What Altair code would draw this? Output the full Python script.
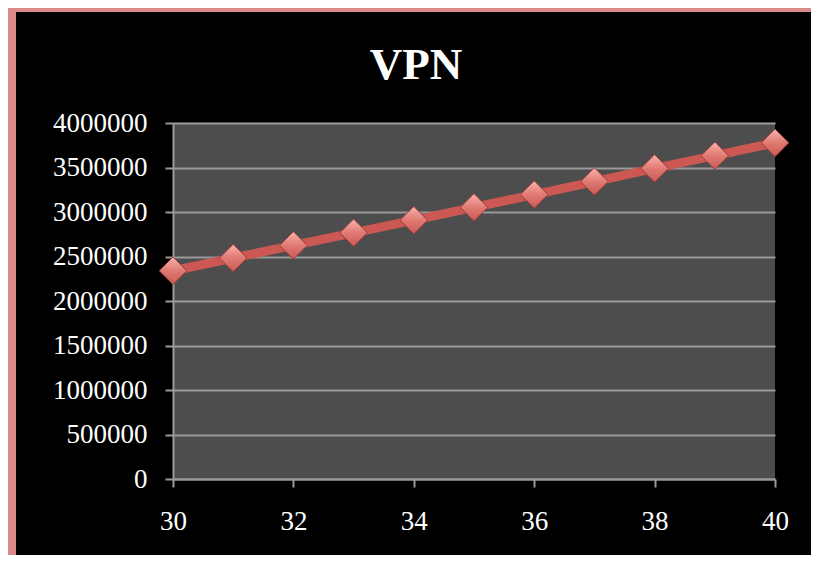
import altair as alt
import pandas as pd

years = [30, 31, 32, 33, 34, 35, 36, 37, 38, 39, 40]
vpn = [2340000, 2483000, 2625000, 2766000, 2908000, 3052000,
       3196000, 3342000, 3490000, 3633000, 3777000]
x_ticks = [30, 32, 34, 36, 38, 40]
y_ticks = [0, 500000, 1000000, 1500000, 2000000, 2500000, 3000000, 3500000, 4000000]
title_text = "VPN"

df = pd.DataFrame({"x": years, "y": vpn})

FONT = "Liberation Serif"

xenc = alt.X("x:Q",
             scale=alt.Scale(domain=[30, 40], nice=False, zero=False),
             axis=alt.Axis(values=x_ticks, title=None, grid=False,
                           labelFont=FONT, labelFontSize=27, labelColor="#ffffff",
                           domainColor="#9a9a9a", domainWidth=2,
                           tickColor="#9a9a9a", tickWidth=2, tickSize=8,
                           labelPadding=21, labelFlush=False))
yenc = alt.Y("y:Q",
             scale=alt.Scale(domain=[0, 4000000], nice=False),
             axis=alt.Axis(values=y_ticks, title=None, format="d",
                           grid=True, gridColor="#9a9a9a", gridWidth=2,
                           labelFont=FONT, labelFontSize=27, labelColor="#ffffff",
                           domainColor="#9a9a9a", domainWidth=2,
                           tickColor="#9a9a9a", tickWidth=2, tickSize=8,
                           labelPadding=18))

base = alt.Chart(df)

line = base.mark_line(color="#cb5853", strokeWidth=9).encode(x=xenc, y=yenc)

grad = alt.LinearGradient(
    gradient="linear",
    stops=[alt.GradientStop(color="#f8b4ae", offset=0),
           alt.GradientStop(color="#e07a73", offset=0.5),
           alt.GradientStop(color="#c95a54", offset=1)],
    x1=0, x2=0, y1=0, y2=1)

points = base.mark_point(shape="diamond", filled=True, size=760, fill=grad,
                         stroke="#9a3a36", strokeWidth=1, opacity=1).encode(x=xenc, y=yenc)

strip_data = alt.Data(values=[{"k": 1}])
left_strip = alt.Chart(strip_data).mark_rect(color="#d98a88").encode(
    x=alt.value(-165), x2=alt.value(-157), y=alt.value(-115), y2=alt.value(432))
top_strip = alt.Chart(strip_data).mark_rect(color="#d98a88").encode(
    x=alt.value(-165), x2=alt.value(638), y=alt.value(-115), y2=alt.value(-111))

title = alt.Chart(strip_data).mark_text(
    font=FONT, fontSize=45, fontWeight="bold", color="#ffffff",
    align="center", baseline="alphabetic").encode(
    text=alt.value(title_text), x=alt.value(243), y=alt.value(-44))

chart = alt.layer(left_strip, top_strip, title, line, points).properties(
    width=602, height=356,
    autosize=alt.AutoSizeParams(type="none"),
    padding={"left": 165, "top": 115, "right": 36, "bottom": 76},
    background="#000000",
).configure_view(fill="#4d4d4d", stroke=None)

chart.save("out.html", embed_options={"renderer": "svg", "actions": False})
